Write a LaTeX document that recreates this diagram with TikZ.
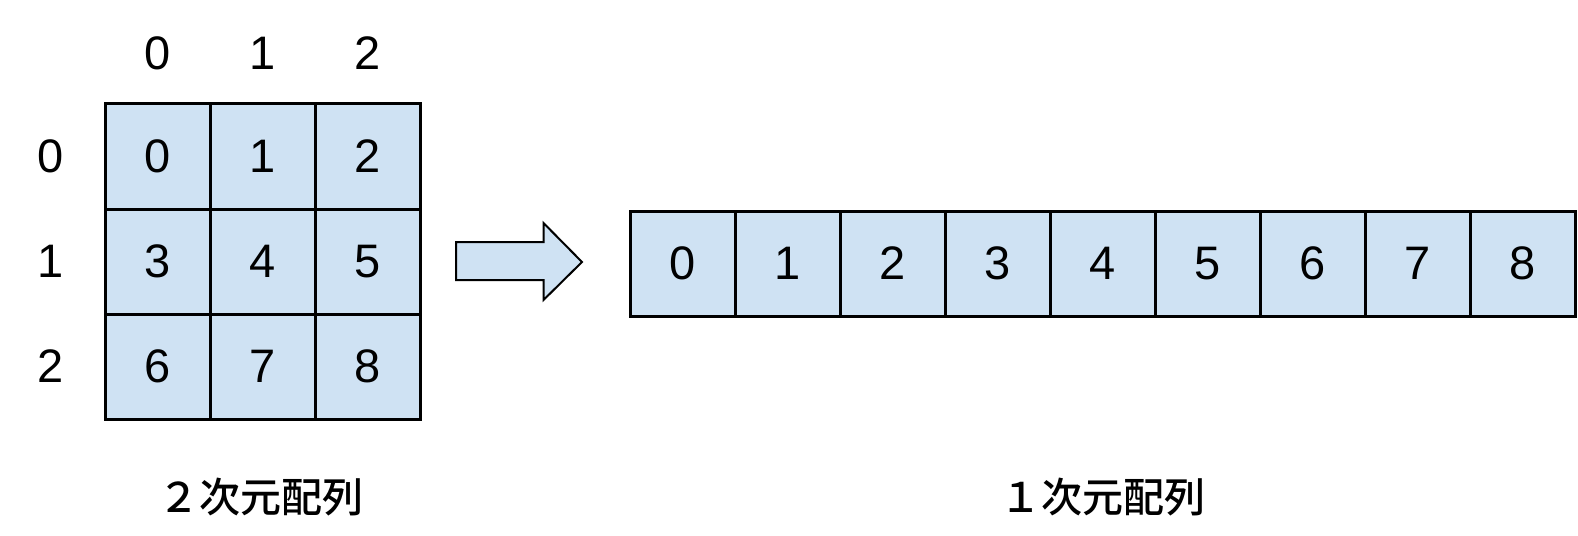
\documentclass[tikz,border=0pt]{standalone}
\usepackage{fontspec}
\setmainfont{Liberation Sans}
\newfontfamily\jpfont{Noto Sans CJK JP Medium}
\definecolor{cellblue}{HTML}{CFE2F3}
\tikzset{
  cell/.style={draw=black, fill=cellblue, line width=1.5pt, minimum size=52.5pt, inner sep=0pt, outer sep=0pt, font=\fontsize{23.5pt}{26pt}\selectfont},
  idx/.style={font=\fontsize{23.5pt}{26pt}\selectfont},
  arrtitle/.style={font=\jpfont\fontsize{20.5pt}{24pt}\selectfont}
}
\begin{document}
\begin{tikzpicture}[x=0.5pt, y=-0.5pt]
	\useasboundingbox (0,0) rectangle (1578,535);
	% 2次元配列
	\foreach \r in {0,1,2} {
		\foreach \c in {0,1,2} {
			\pgfmathtruncatemacro{\v}{3*\r+\c}
			\node[cell] (g\r\c) at ({157.5+105*\c}, {156.5+105*\r}) {\v};
		}
	}
	\foreach \c in {0,1,2}
		\node[idx] (col\c) at ({157.5+105*\c}, 53.5) {\c};
	\foreach \r in {0,1,2}
		\node[idx] (row\r) at (50.5, {156.5+105*\r}) {\r};
	\node[arrtitle] (title2) at (260.5, 497) {２次元配列};
	% 矢印
	\draw[fill=cellblue, line width=1pt, line join=miter]
		(456,242) -- (543.5,242) -- (543.5,223) -- (582,262) -- (543.5,300) -- (543.5,280) -- (456,280) -- cycle;
	% 1次元配列
	\foreach \i in {0,...,8}
		\node[cell] (a\i) at ({682.5+105*\i}, 263.5) {\i};
	\node[arrtitle] (title1) at (1102.5, 497) {１次元配列};
\end{tikzpicture}
\end{document}
